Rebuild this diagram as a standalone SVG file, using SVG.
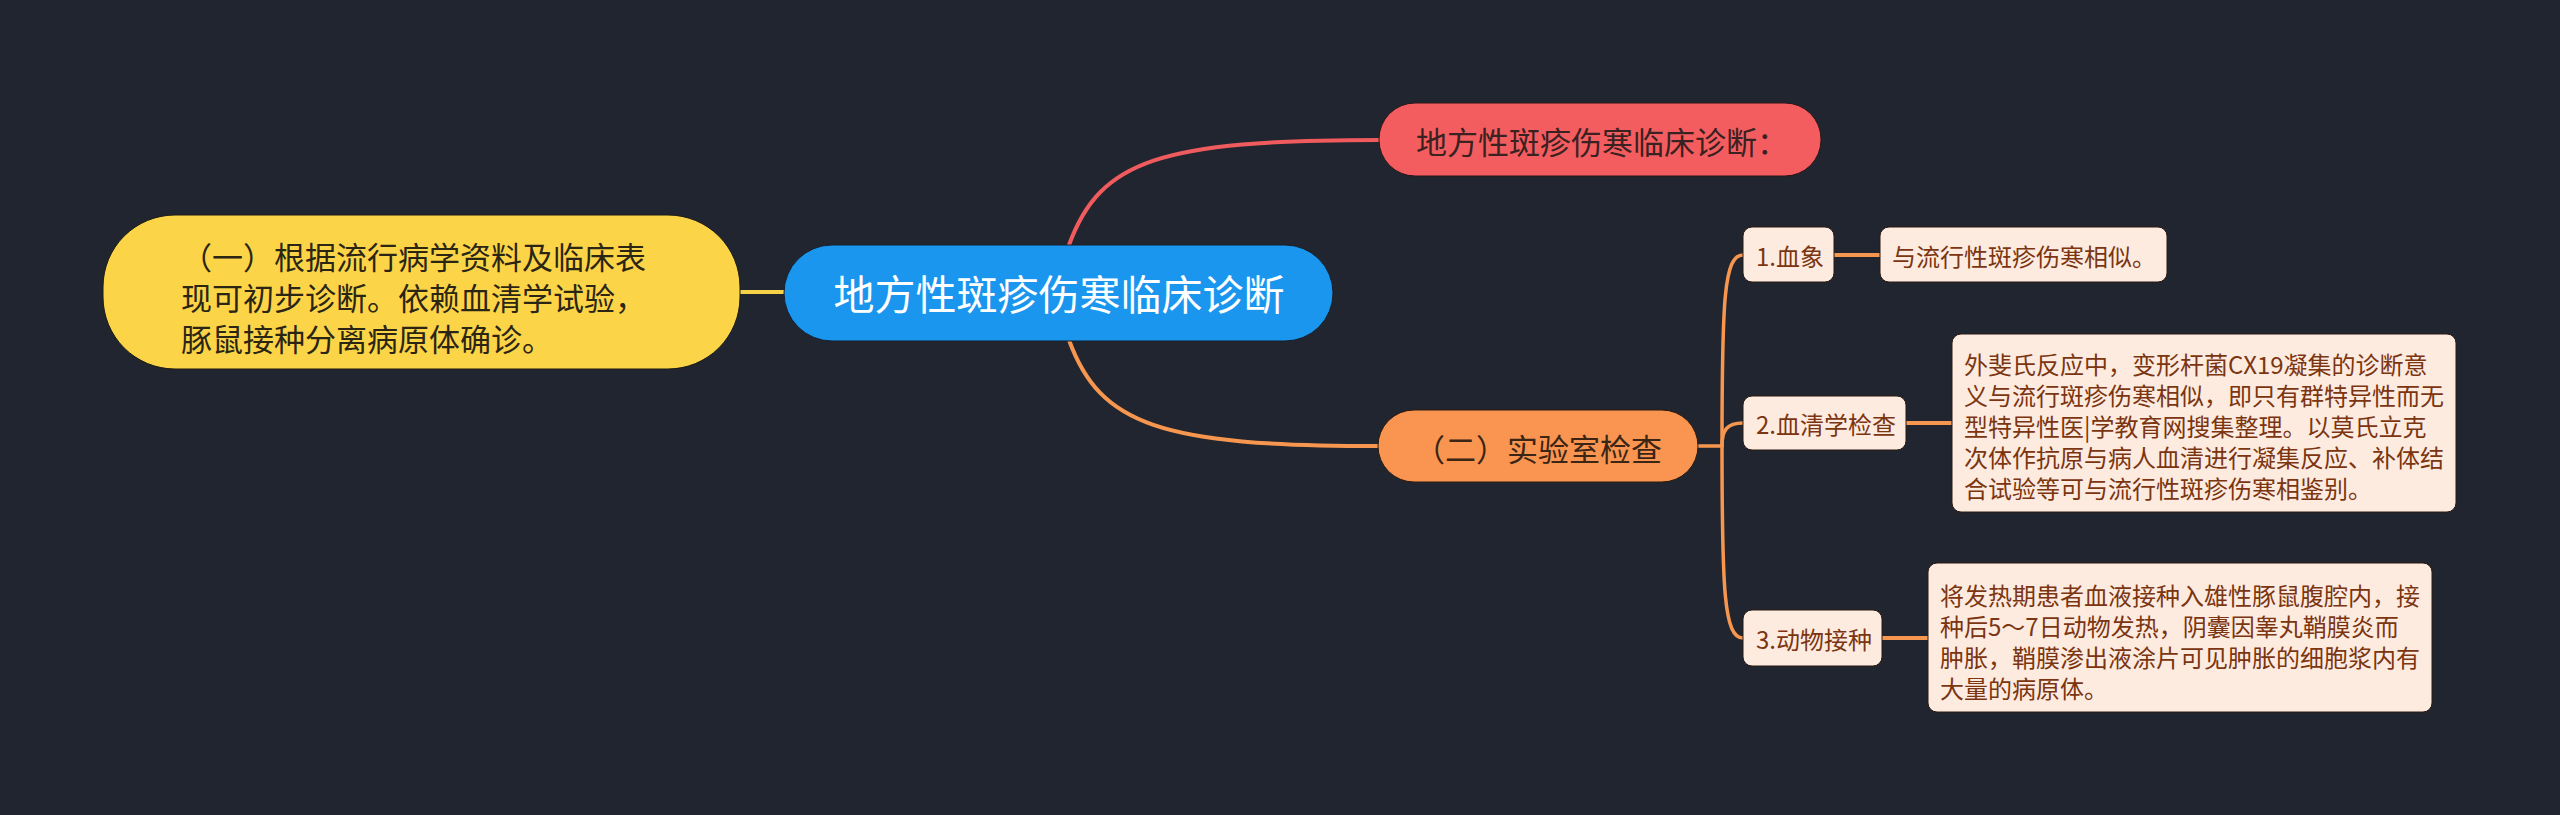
<svg xmlns="http://www.w3.org/2000/svg" width="2560" height="815" viewBox="0 0 2560 815">
<style>
text{font-family:"Noto Sans CJK SC","Noto Sans",sans-serif;dominant-baseline:central}
.c{fill:none;stroke-linecap:round}
.leaf{fill:#fdebe0;stroke:#2a1a12;stroke-width:1}
.lt{font-size:24px;fill:#7b3510}
</style>
<rect x="0" y="0" width="2560" height="815" fill="#21252f"/>
<g id="connectors">
<path class="c" d="M740,292 H784" stroke="#f5d246" stroke-width="4"/>
<path class="c" d="M1069,245 C1100,160 1160,140 1379,140" stroke="#f05b5e" stroke-width="4"/>
<path class="c" d="M1069,340 C1100,425 1160,446 1378,446" stroke="#f7964f" stroke-width="4"/>
<path class="c" d="M1698,446 H1722" stroke="#f7964f" stroke-width="3.5"/>
<path class="c" d="M1722,446 C1722,300 1724,255 1743,255" stroke="#f7964f" stroke-width="3.5"/>
<path class="c" d="M1722,446 C1722,430 1727,423 1743,423" stroke="#f7964f" stroke-width="3.5"/>
<path class="c" d="M1722,446 C1722,590 1724,638 1743,638" stroke="#f7964f" stroke-width="3.5"/>
<path class="c" d="M1834,255 H1880" stroke="#f7964f" stroke-width="4"/>
<path class="c" d="M1906,423 H1952" stroke="#f7964f" stroke-width="4"/>
<path class="c" d="M1882,638 H1928" stroke="#f7964f" stroke-width="4"/>
</g>
<g id="node-root">
<rect x="784" y="245" width="549" height="96" rx="48" fill="#1a96ee" stroke="#15202e" stroke-width="1"/>
<text x="1059" y="292" font-size="41" fill="#ffffff" text-anchor="middle">地方性斑疹伤寒临床诊断</text>
</g>
<g id="node-left">
<rect x="103" y="215" width="637" height="154" rx="72" fill="#fcd448" stroke="#1a1a14" stroke-width="1"/>
<text font-size="31" fill="#2b2614"><tspan x="181" y="255">（一）根据流行病学资料及临床表</tspan><tspan x="181" y="296">现可初步诊断。依赖血清学试验，</tspan><tspan x="181" y="337">豚鼠接种分离病原体确诊。</tspan></text>
</g>
<g id="node-red">
<rect x="1379" y="103" width="442" height="73" rx="36" fill="#f45d5f" stroke="#2a1618" stroke-width="1"/>
<text x="1416" y="140" font-size="31" fill="#3a2122">地方性斑疹伤寒临床诊断：</text>
</g>
<g id="node-orange">
<rect x="1378" y="410" width="320" height="72" rx="36" fill="#f99550" stroke="#2a1a10" stroke-width="1"/>
<text x="1538" y="447" font-size="31" fill="#3b2514" text-anchor="middle">（二）实验室检查</text>
</g>
<g id="node-a1">
<rect class="leaf" x="1743" y="227" width="91" height="55" rx="9"/>
<text class="lt" x="1756" y="255">1.血象</text>
</g>
<g id="node-a1d">
<rect class="leaf" x="1880" y="227" width="287" height="55" rx="9"/>
<text class="lt" x="1892" y="255">与流行性斑疹伤寒相似。</text>
</g>
<g id="node-a2">
<rect class="leaf" x="1743" y="396" width="163" height="54" rx="9"/>
<text class="lt" x="1756" y="423">2.血清学检查</text>
</g>
<g id="node-a2d">
<rect class="leaf" x="1952" y="334" width="504" height="178" rx="9"/>
<text class="lt"><tspan x="1964" y="363">外斐氏反应中，变形杆菌CX19凝集的诊断意</tspan><tspan x="1964" y="394">义与流行斑疹伤寒相似，即只有群特异性而无</tspan><tspan x="1964" y="425">型特异性医|学教育网搜集整理。以莫氏立克</tspan><tspan x="1964" y="456">次体作抗原与病人血清进行凝集反应、补体结</tspan><tspan x="1964" y="487">合试验等可与流行性斑疹伤寒相鉴别。</tspan></text>
</g>
<g id="node-a3">
<rect class="leaf" x="1743" y="610" width="139" height="56" rx="9"/>
<text class="lt" x="1756" y="638">3.动物接种</text>
</g>
<g id="node-a3d">
<rect class="leaf" x="1928" y="563" width="504" height="149" rx="9"/>
<text class="lt"><tspan x="1940" y="594">将发热期患者血液接种入雄性豚鼠腹腔内，接</tspan><tspan x="1940" y="625">种后5～7日动物发热，阴囊因睾丸鞘膜炎而</tspan><tspan x="1940" y="656">肿胀，鞘膜渗出液涂片可见肿胀的细胞浆内有</tspan><tspan x="1940" y="687">大量的病原体。</tspan></text>
</g>
</svg>
